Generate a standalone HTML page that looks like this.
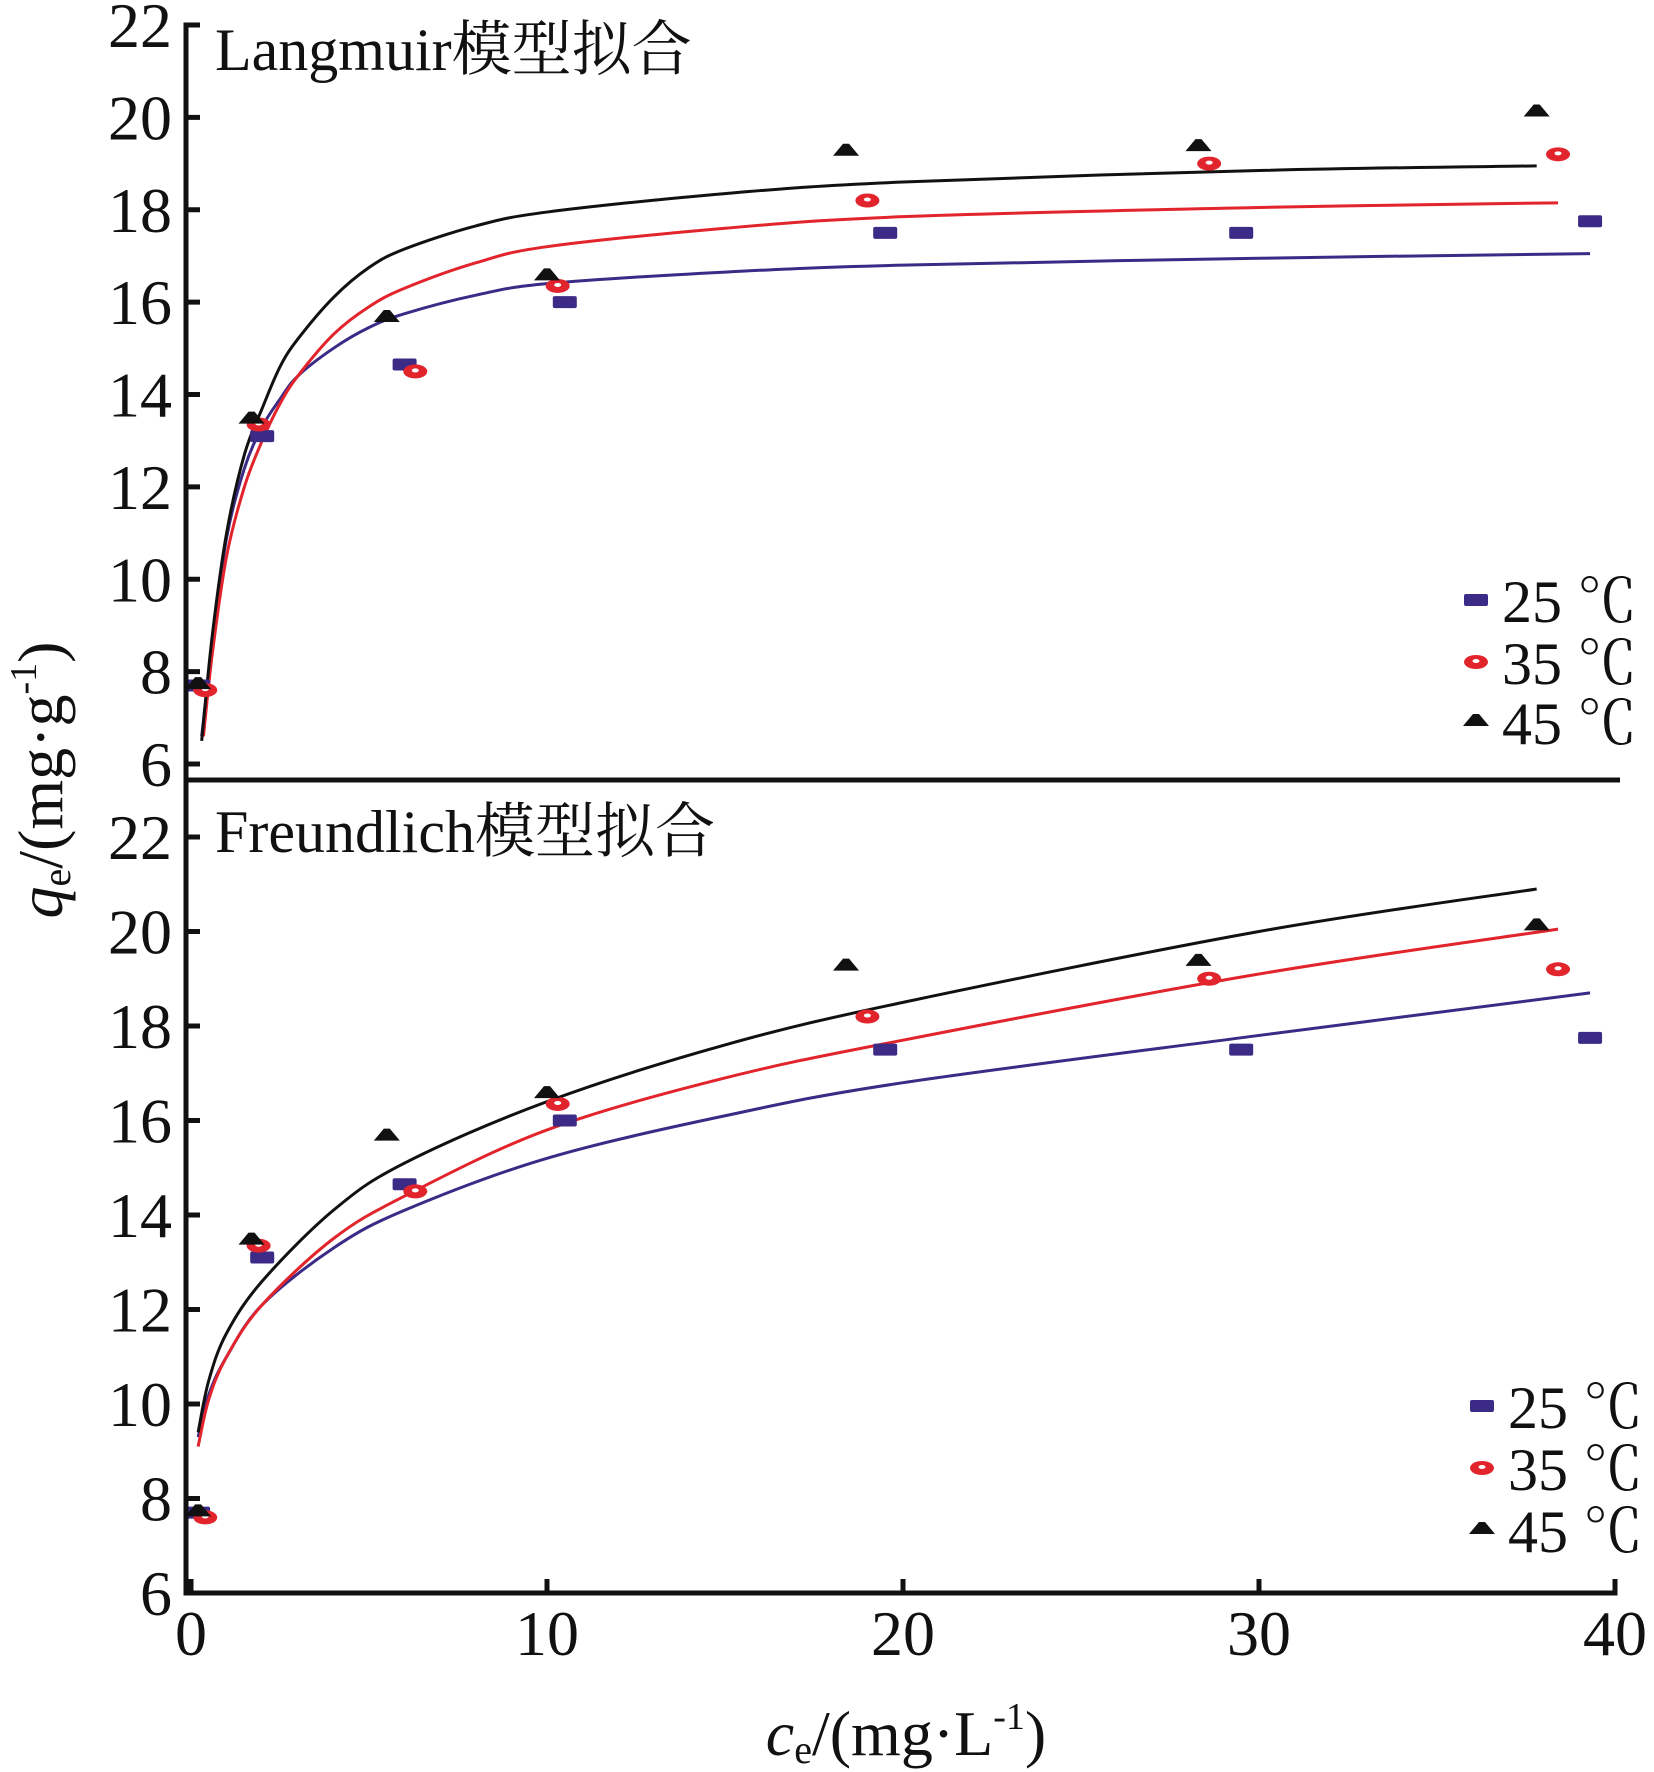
<!DOCTYPE html>
<html><head><meta charset="utf-8"><style>
html,body{margin:0;padding:0;background:#fff;}
svg{display:block;}
text{font-family:"Liberation Serif","Noto Serif CJK SC","Noto Sans CJK SC",serif;fill:#111;}
</style></head><body>
<svg id="chart" width="1654" height="1772" viewBox="0 0 1654 1772" xmlns="http://www.w3.org/2000/svg"></svg>
<script>
// ---- data ----
const tempLabels = ["25 ℃","35 ℃","45 ℃"];
const yTicks = [6,8,10,12,14,16,18,20,22];
const xTicks = [0,10,20,30,40];
// measured points (same in both panels)
const c25 = [0.2,2.0,6.0,10.5,19.5,29.5,39.3];
const q25 = [7.7,13.1,14.65,16.0,17.5,17.5,17.75];
const c35 = [0.4,1.9,6.3,10.3,19.0,28.6,38.4];
const q35 = [7.6,13.35,14.5,16.35,18.2,19.0,19.2];
const c45 = [0.2,1.7,5.5,10.0,18.4,28.3,37.8];
const q45 = [7.75,13.5,15.7,16.6,19.3,19.4,20.15];
// fitted curves
const lc25 = [0.3,0.6,1,1.5,2,2.5,3,4,5,6,8,10,15,20,30,39.3];
const lq25 = [6.6,8.6,10.9,12.4,13.3,13.9,14.4,15.0,15.45,15.75,16.15,16.4,16.65,16.8,16.95,17.05];
const lc35 = [0.35,0.6,1,1.5,2,2.5,3,4,5,6,8,10,15,20,30,38.4];
const lq35 = [6.6,8.4,10.5,12.0,13.0,13.8,14.4,15.3,15.9,16.3,16.85,17.2,17.6,17.85,18.05,18.15];
const lc45 = [0.3,0.6,1,1.5,2,2.5,3,4,5,6,8,10,15,20,30,37.8];
const lq45 = [6.5,8.8,11.0,12.7,13.7,14.6,15.2,16.1,16.75,17.15,17.65,17.95,18.35,18.6,18.85,18.95];
const fc25 = [0.2,0.5,1,2,4,6,10,15,20,30,39.3];
const fq25 = [9.3,10.2,11.0,12.1,13.3,14.1,15.2,16.1,16.8,17.8,18.7];
const fc35 = [0.2,0.5,1,2,4,6,10,15,20,30,38.4];
const fq35 = [9.1,10.1,11.0,12.1,13.5,14.4,15.8,16.9,17.7,19.1,20.05];
const fc45 = [0.2,0.5,1,2,4,6,10,15,20,30,37.8];
const fq45 = [9.4,10.5,11.5,12.6,14.1,15.1,16.4,17.6,18.5,20.0,20.9];

const NS="http://www.w3.org/2000/svg";
const svg=document.getElementById('chart');
const FF='"Liberation Serif","Noto Serif CJK SC",serif';
function mk(tag,attrs,parent){const e=document.createElementNS(NS,tag);for(const k in attrs)e.setAttribute(k,attrs[k]);(parent||svg).appendChild(e);return e;}
const X0=191, X1=1615;
function xs(v){return X0+(v-0)*(X1-X0)/40;}
const panels=[
 {name:'langmuir',top:25,bot:764,title:'Langmuir模型拟合',titleY:70,legY:[600,662,722],legX:1476,curves:[[lc25,lq25],[lc35,lq35],[lc45,lq45]]},
 {name:'freundlich',top:837,bot:1593,title:'Freundlich模型拟合',titleY:852,legY:[1406,1468,1530],legX:1482,curves:[[fc25,fq25],[fc35,fq35],[fc45,fq45]]}
];
const colors=['#3b2a86','#e2242c','#111111'];
const pts=[[c25,q25],[c35,q35],[c45,q45]];

function marker(g,k,x,y){
  if(k===0){const r=mk('rect',{x:x-12,y:y-6,width:24,height:12,rx:2,fill:colors[0]},g);}
  else if(k===1){const e=mk('ellipse',{cx:x,cy:y,rx:12,ry:7,fill:colors[1]},g);
    const h=mk('ellipse',{cx:x,cy:y-1,rx:3.5,ry:2,fill:'#fff'},g);}
  else {const p=mk('polygon',{points:`${x-13},${y+6} ${x+13},${y+6} ${x+3},${y-6} ${x-3},${y-6}`,fill:colors[2]},g);}
}
function smooth(P){let d=`M${P[0][0]},${P[0][1]}`;for(let i=0;i<P.length-1;i++){const p0=P[Math.max(0,i-1)],p1=P[i],p2=P[i+1],p3=P[Math.min(P.length-1,i+2)];
 const c1=[p1[0]+(p2[0]-p0[0])/6,p1[1]+(p2[1]-p0[1])/6],c2=[p2[0]-(p3[0]-p1[0])/6,p2[1]-(p3[1]-p1[1])/6];
 d+=` C${c1[0]},${c1[1]} ${c2[0]},${c2[1]} ${p2[0]},${p2[1]}`;}return d;}

panels.forEach(pn=>{
  const ys=v=>pn.bot-(v-6)*(pn.bot-pn.top)/16;
  const g=mk('g',{});
  yTicks.forEach(t=>{const y=ys(t);
    const l=mk('line',{x1:186,x2:200,y1:y,y2:y,stroke:'#111','stroke-width':5},g);
    const tx=mk('text',{x:172,y:y+22,'font-size':64,'text-anchor':'end','font-family':FF},g);tx.textContent=t;});
  const tt=mk('text',{x:215,y:pn.titleY,'font-size':60,'font-family':FF},g);tt.textContent=pn.title;
  pn.curves.forEach((cv,k)=>{const P=cv[0].map((c,i)=>[xs(c),ys(cv[1][i])]);
    const p=mk('path',{d:smooth(P),fill:'none',stroke:colors[k],'stroke-width':3},g);});
  pts.forEach((s,k)=>s[0].forEach((c,i)=>marker(g,k,xs(c),ys(s[1][i]))));
  tempLabels.forEach((lab,k)=>{const y=pn.legY[k];marker(g,k,pn.legX,y+(k===2?-2:0));
    const t=mk('text',{x:pn.legX+26,y:y+22,'font-size':60,'font-family':FF},g);t.textContent=lab;});
});
// axes
const ax=mk('path',{d:`M200,25 L186,25 L186,1593 L1615,1593 L1615,1579`,fill:'none',stroke:'#111','stroke-width':5});

const sep=mk('line',{x1:186,x2:1620,y1:780,y2:780,stroke:'#111','stroke-width':5});

xTicks.forEach(t=>{const x=xs(t);
  const l=mk('line',{x1:x,x2:x,y1:1593,y2:1579,stroke:'#111','stroke-width':5});
  const tx=mk('text',{x:x,y:1655,'font-size':64,'text-anchor':'middle','font-family':FF});tx.textContent=t;});
</script>
<div style="position:absolute;left:0;top:0;width:1654px;height:1772px;pointer-events:none;">
<svg width="1654" height="1772" style="position:absolute;left:0;top:0">
<text x="906" y="1755" font-size="64" text-anchor="middle" font-family='"Liberation Serif",serif'><tspan font-style="italic">c</tspan><tspan font-size="40" dy="8">e</tspan><tspan dy="-8">/(mg·L</tspan><tspan font-size="38" dy="-26">-1</tspan><tspan dy="26">)</tspan></text>
<text transform="translate(62,780) rotate(-90)" font-size="64" text-anchor="middle" font-family='"Liberation Serif",serif'><tspan font-style="italic">q</tspan><tspan font-size="40" dy="8">e</tspan><tspan dy="-8">/(mg·g</tspan><tspan font-size="38" dy="-26">-1</tspan><tspan dy="26">)</tspan></text>
</svg></div>
</body></html>
